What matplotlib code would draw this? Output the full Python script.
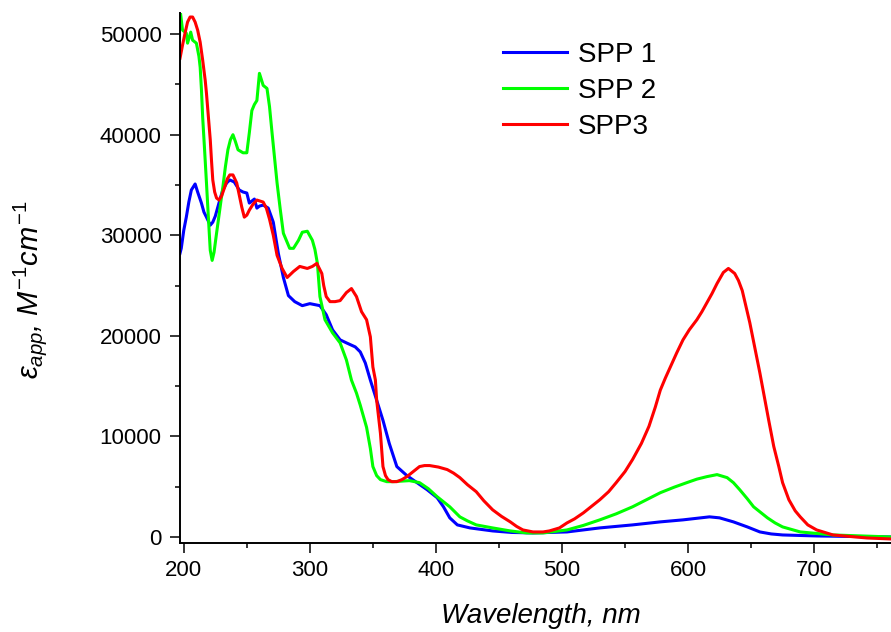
import matplotlib
matplotlib.use("Agg")
import matplotlib.pyplot as plt
from matplotlib.ticker import MultipleLocator

plt.rcParams['font.family'] = ['Liberation Sans', 'DejaVu Sans']
plt.rcParams['mathtext.fontset'] = 'custom'
plt.rcParams['mathtext.it'] = 'Liberation Sans:italic'
plt.rcParams['mathtext.rm'] = 'Liberation Sans'

# ---- data ----
spp1_wl = [197, 198, 200, 202, 204, 206, 209, 211, 214, 216, 218, 221, 223, 225, 227, 229,
           231, 234, 236.5, 240, 244, 247, 250, 252, 254, 256, 258, 260, 263, 267, 271,
           275, 279, 283, 288, 294, 300, 308, 313, 318, 324, 329, 336, 340, 344, 348,
           353, 358, 363, 369, 377, 385, 393, 401, 406, 411, 417, 427, 445, 460, 477,
           504, 530, 556, 578, 596, 617, 625, 636, 647, 657, 666, 675, 702, 730, 761]
spp1_eps = [28200, 28700, 30500, 31800, 33300, 34500, 35100, 34300, 33200, 32300, 31800,
            31000, 31300, 31900, 32800, 33700, 34500, 35200, 35500, 35300, 34500, 34300,
            34200, 33200, 33400, 33600, 32700, 32900, 33000, 32700, 31300, 28200, 25800,
            24000, 23400, 23000, 23200, 23000, 22100, 20600, 19600, 19300, 18900, 18400,
            17300, 15600, 13600, 11600, 9300, 7000, 6100, 5400, 4700, 3900, 3000, 1900,
            1200, 900, 600, 450, 400, 500, 900, 1200, 1500, 1700, 2000, 1900, 1500, 1000,
            500, 300, 200, 100, 50, 0]

spp2_wl = [197, 199, 202, 203, 205.5, 207, 210, 212, 213, 214, 215, 216.5, 218, 219.5,
           221, 222.5, 224, 226, 228.5, 231, 233, 235, 237, 239, 241, 243, 247, 250, 252,
           254, 256, 258, 260, 263, 266, 268, 270, 272, 274, 276.5, 279, 284, 287, 291,
           294, 298, 302, 304, 306, 308, 312, 318, 324, 329, 333, 337, 340, 345, 348,
           350, 353, 356, 361, 366, 379, 387, 394, 401, 411, 419, 425, 432, 445, 459,
           472, 485, 504, 517, 530, 543, 556, 567, 578, 589, 599, 607, 615, 623, 631,
           636, 641, 647, 652, 658, 663, 669, 675, 689, 715, 761]
spp2_eps = [52500, 50400, 50100, 49100, 50200, 49400, 49100, 47800, 46700, 44500, 41700,
            38500, 35200, 31800, 28500, 27500, 28300, 30200, 32500, 34800, 36800, 38500,
            39500, 40000, 39300, 38500, 38200, 38200, 40200, 42400, 43000, 43400, 46100,
            44900, 44600, 42800, 40200, 37700, 35200, 32600, 30200, 28700, 28700, 29500,
            30300, 30400, 29500, 28600, 27200, 23900, 21600, 20300, 19300, 17600, 15600,
            14300, 13100, 10900, 8800, 7000, 6100, 5700, 5500, 5500, 5600, 5400, 4800,
            4000, 3000, 2000, 1600, 1200, 900, 600, 400, 400, 700, 1150, 1700, 2300, 3000,
            3700, 4400, 4950, 5400, 5750, 6000, 6200, 5900, 5400, 4700, 3800, 3000, 2400,
            1900, 1400, 1000, 500, 200, 0]

spp3_wl = [197, 199, 201, 203, 205, 207, 209, 211, 213, 215, 217, 218, 219.5, 221, 222,
           223, 224.5, 226, 228, 230, 232.5, 234.5, 236.5, 239, 242, 244, 246, 248, 250,
           252, 255, 258, 263, 265.5, 268, 271, 274, 278, 282, 287, 292, 298, 302, 305.5,
           309.5, 311, 313, 316, 320, 324, 329, 333, 337, 341, 345, 348, 350, 352, 353,
           356, 358, 360, 362, 365, 369, 373, 377, 382, 387, 391, 395, 402, 409, 414,
           419, 425, 432, 438, 445, 452, 459, 464, 469, 477, 485, 490, 498, 504, 510,
           517, 523, 530, 537, 543, 550, 556, 563, 569, 574, 578, 582, 586, 591, 596,
           601, 607, 611, 615, 619, 623, 628, 632, 637, 640, 643, 649, 653, 657, 661,
           664, 668, 672, 675, 680, 685, 689, 695, 702, 715, 742, 761]
spp3_eps = [47600, 48900, 50100, 51200, 51700, 51700, 51200, 50400, 49200, 47400, 45400,
            44100, 41800, 39500, 37400, 35500, 34300, 33700, 33500, 33900, 34800, 35600,
            36000, 36000, 35200, 34000, 32800, 31800, 32000, 32500, 33100, 33500, 33300,
            32700, 31600, 30000, 28000, 26700, 25800, 26400, 26900, 26700, 26900, 27200,
            26200, 25000, 23900, 23400, 23400, 23500, 24300, 24700, 23900, 22400, 21600,
            19900, 16900, 15600, 13600, 10300, 7000, 6100, 5700, 5500, 5500, 5700, 6000,
            6500, 7000, 7100, 7100, 6950, 6700, 6350, 5900, 5200, 4500, 3600, 2700, 2050,
            1500, 1050, 700, 500, 500, 600, 900, 1400, 1800, 2400, 3000, 3700, 4500, 5400,
            6500, 7700, 9300, 11000, 12900, 14600, 15800, 16900, 18300, 19600, 20600,
            21600, 22400, 23300, 24200, 25200, 26300, 26700, 26200, 25500, 24500, 21300,
            18800, 16300, 13600, 11600, 9000, 7000, 5400, 3700, 2600, 2000, 1200, 700, 200,
            -100, -200]

labels = ["SPP 1", "SPP 2", "SPP3"]
colors = ["#0000FF", "#00FF00", "#FF0000"]

xticks = [200, 300, 400, 500, 600, 700]
yticks = [0, 10000, 20000, 30000, 40000, 50000]

# ---- figure ----
W, H = 891, 632
fig = plt.figure(figsize=(W / 100, H / 100), dpi=100)
ax = fig.add_axes([180 / W, 1 - 543 / H, 1 - 180 / W, (543 - 13) / H])

for wl, eps, lab, col in zip([spp1_wl, spp2_wl, spp3_wl],
                             [spp1_eps, spp2_eps, spp3_eps], labels, colors):
    ax.plot(wl, eps, color=col, lw=2.2, label=lab)

ax.set_xlim(197, 761)
ax.set_ylim(-600, 52100)
ax.set_xticks(xticks)
ax.set_yticks(yticks)
ax.xaxis.set_minor_locator(MultipleLocator(50))
ax.yaxis.set_minor_locator(MultipleLocator(5000))

for s in ['top', 'right']:
    ax.spines[s].set_visible(False)
for s in ['left', 'bottom']:
    ax.spines[s].set_linewidth(1.4)

ax.tick_params(which='major', direction='out', length=7.2, width=1.1,
               labelsize=16, pad=5)
ax.tick_params(which='minor', direction='out', length=3.6, width=1.1)
ax.tick_params(axis='y', which='major', pad=6)

leg = ax.legend(loc='upper left', bbox_to_anchor=(503 / W, 1 - 42 / H),
                bbox_transform=fig.transFigure, frameon=False, fontsize=20,
                handlelength=2.3, handletextpad=0.4, labelspacing=0.36,
                borderpad=0, borderaxespad=0)
for line in leg.get_lines():
    line.set_linewidth(2.2)

fig.text(541 / W, 1 - 623 / H, "Wavelength, nm", fontsize=20, style='italic',
         ha='center', va='baseline')
fig.text(30 / W, 1 - 290 / H, r"$\varepsilon_{app}$, $M^{-1}cm^{-1}$", fontsize=21,
         style='italic', rotation=90, ha='center', va='center')

fig.savefig("out.png", dpi=100)
